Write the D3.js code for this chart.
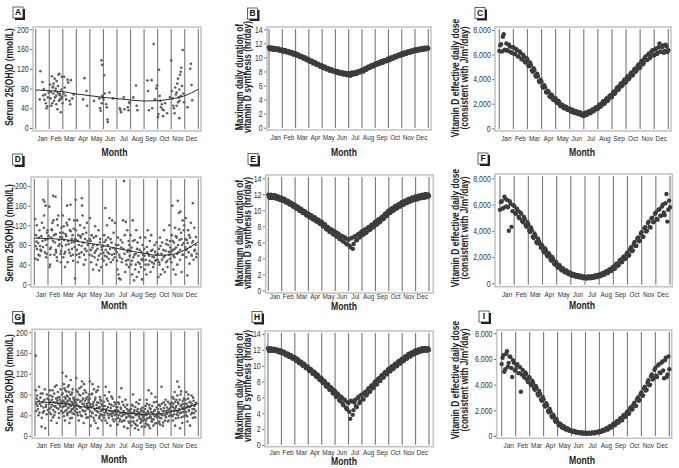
<!DOCTYPE html>
<html><head><meta charset="utf-8">
<script src="https://cdn.jsdelivr.net/npm/d3@7"></script>
<style>
body{margin:0;background:#fff}
svg{display:block}
text{font-family:"Liberation Sans",Arial,sans-serif}
</style></head><body>
<svg id="c" width="679" height="468"></svg>
<script>
const months = ["Jan","Feb","Mar","Apr","May","Jun","Jul","Aug","Sep","Oct","Nov","Dec"];
const serumTicks = [0,40,80,120,160,200];
const hourTicks = [0,2,4,6,8,10,12,14];
const doseTicks = [0,2000,4000,6000,8000];
const loessMonths = [0,1,2,3,4,5,6,7,8,9,10,11,12];
// sampling grids (month position) of the dense daily series
const sampleMonths = d3.range(0, 12.0001, 0.125);
const sampleMonths2 = d3.range(0.0625, 12, 0.125);

// Panel A: serum 25(OH)D [month position, nmol/L]
const serumA = [[0.35,115],[0.5,93],[0.3,58],[0.6,79],[0.7,68],[0.75,50],[0.85,44],[0.9,62],[0.65,57],[0.8,40],[0.95,72],[0.55,66],
[1.05,88],[1.1,60],[1.15,45],[1.2,105],[1.25,82],[1.3,70],[1.35,55],[1.4,100],[1.45,75],[1.5,65],[1.55,95],[1.6,38],[1.65,85],[1.7,68],[1.75,110],[1.8,58],[1.85,32],[1.9,78],[1.95,63],[1.12,73],[1.22,50],[1.32,90],[1.42,62],[1.52,48],[1.62,72],[1.72,55],[1.82,66],[1.92,104],[1.98,50],[1.28,84],[1.48,80],[1.68,108],[1.78,70],[1.88,60],
[2.05,70],[2.1,104],[2.15,82],[2.2,66],[2.25,58],[2.35,98],[2.4,92],[2.5,55],[2.55,48],[2.6,97],[2.7,60],[2.8,68],
[3.5,58],[3.6,101],[3.75,75],[3.8,45],
[4.3,55],[4.7,60],[4.75,40],[4.8,35],[4.85,137],[4.9,128],[4.92,65],[4.95,62],[5.0,58],[4.88,50],
[5.05,107],[5.1,70],[5.2,48],[5.25,42],[5.3,17],[5.32,12],[5.45,72],[5.7,60],
[6.2,40],[6.25,36],[6.3,32],[6.5,62],[6.55,38],[6.8,42],[6.85,36],[6.9,52],[6.95,50],
[7.2,62],[7.4,86],[7.45,45],[7.5,36],
[8.25,96],[8.3,75],[8.35,36],[8.55,97],[8.6,40],[8.7,170],[8.8,58],[8.9,80],[8.95,86],
[9.02,22],[9.05,28],[9.1,118],[9.15,65],[9.2,55],[9.25,42],[9.3,48],[9.35,38],[9.4,24],[9.45,36],[9.55,50],[9.7,30],
[9.9,62],[10.0,137],[10.05,75],[10.1,60],[10.15,45],[10.2,40],[10.25,30],[10.3,82],[10.35,68],[10.4,72],[10.45,90],[10.5,100],[10.55,62],[10.6,20],[10.62,55],[10.65,108],[10.7,114],[10.72,65],[10.75,122],[10.8,85],[10.85,158],[10.9,70],[10.95,52],[10.5,52],[10.4,45],[10.6,78],
[11.2,42],[11.4,120],[11.45,130],[11.5,87],[11.55,56]];
const loessA = [77,75.7,73.6,69,65.5,62,59.5,56.8,54.7,55.4,58.8,65.5,78.4];

// Panel D
const serumD = [[0.06,133],[0.08,52],[0.12,100],[0.15,87],[0.2,72],[0.25,50],[0.3,60],[0.33,95],[0.38,110],[0.45,70],[0.5,68],[0.56,125],[0.6,88],[0.66,172],[0.7,115],[0.75,168],[0.78,65],[0.83,160],[0.86,55],[0.9,80],[0.93,105],[0.95,92],[0.42,78],
[1.1,158],[1.12,35],[1.15,40],[1.18,60],[1.22,75],[1.25,95],[1.3,110],[1.33,125],[1.38,180],[1.4,130],[1.45,100],[1.5,85],[1.55,178],[1.58,70],[1.6,65],[1.65,55],[1.68,48],[1.72,120],[1.75,140],[1.8,90],[1.85,82],[1.88,105],[1.92,62],[1.95,45],[1.98,115],
[2.04,95],[2.08,140],[2.12,55],[2.15,118],[2.2,62],[2.24,35],[2.28,102],[2.32,80],[2.36,125],[2.4,160],[2.44,45],[2.48,88],[2.52,70],[2.56,132],[2.6,110],[2.65,162],[2.68,58],[2.72,85],[2.76,72],[2.8,100],[2.84,48],[2.88,113],[2.92,130],[2.95,76],[2.97,92],[2.98,12],
[3.03,172],[3.07,90],[3.1,60],[3.14,130],[3.18,45],[3.22,100],[3.26,80],[3.3,55],[3.35,120],[3.4,95],[3.45,65],[3.48,175],[3.5,160],[3.53,140],[3.58,85],[3.62,40],[3.66,115],[3.7,72],[3.75,50],[3.8,105],[3.85,125],[3.9,88],
[4.04,60],[4.08,135],[4.12,88],[4.16,45],[4.2,100],[4.25,75],[4.3,30],[4.35,95],[4.4,55],[4.45,118],[4.5,68],[4.55,40],[4.6,80],[4.65,50],[4.7,110],[4.75,28],[4.8,85],[4.85,62],[4.9,35],[4.94,70],[4.97,52],
[5.04,78],[5.08,48],[5.12,100],[5.16,58],[5.2,155],[5.24,90],[5.28,40],[5.32,120],[5.36,65],[5.4,95],[5.45,52],[5.5,135],[5.55,72],[5.6,45],[5.65,85],[5.7,130],[5.75,50],[5.8,105],[5.85,62],[5.9,125],[5.94,70],[5.97,80],
[6.04,65],[6.08,30],[6.12,95],[6.16,20],[6.2,12],[6.25,55],[6.3,10],[6.35,75],[6.4,45],[6.45,85],[6.5,130],[6.56,210],[6.6,62],[6.65,25],[6.7,127],[6.75,40],[6.8,110],[6.85,50],[6.88,70],[6.92,35],[6.95,80],[6.98,58],
[7.04,100],[7.08,40],[7.12,75],[7.16,20],[7.2,130],[7.25,55],[7.3,8],[7.34,90],[7.38,30],[7.42,62],[7.46,110],[7.5,15],[7.55,85],[7.6,45],[7.65,25],[7.7,70],[7.75,95],[7.8,35],[7.85,50],[7.88,10],[7.92,80],[7.95,60],[7.98,48],
[8.04,72],[8.08,30],[8.12,95],[8.16,50],[8.2,20],[8.25,65],[8.3,110],[8.35,40],[8.4,58],[8.45,88],[8.5,25],[8.55,100],[8.6,45],[8.65,70],[8.7,35],[8.75,55],[8.8,80],[8.85,48],[8.9,60],[8.95,85],
[9.04,50],[9.08,15],[9.12,72],[9.16,40],[9.2,95],[9.25,20],[9.3,62],[9.35,85],[9.4,30],[9.45,55],[9.5,110],[9.55,25],[9.6,68],[9.65,45],[9.7,90],[9.75,35],[9.8,80],[9.85,60],[9.88,120],[9.92,52],[9.95,75],[9.98,65],
[10.03,45],[10.06,100],[10.1,160],[10.14,70],[10.18,30],[10.22,85],[10.26,55],[10.3,115],[10.34,20],[10.38,75],[10.42,95],[10.46,40],[10.5,170],[10.54,65],[10.58,145],[10.62,90],[10.66,50],[10.7,148],[10.74,105],[10.78,25],[10.82,80],[10.86,130],[10.9,60],[10.94,110],[10.97,120],
[11.04,75],[11.08,135],[11.12,55],[11.16,90],[11.2,18],[11.25,110],[11.3,65],[11.35,42],[11.4,95],[11.45,125],[11.5,60],[11.55,85],[11.6,165],[11.65,50],[11.7,115],[11.75,70],[11.8,80],[11.85,55]];
const serumD2 = [[0.1,78],[0.18,120],[0.28,84],[0.4,58],[0.52,98],[0.64,76],[0.72,140],[0.82,90],[0.9,62],[0.97,110],
[1.05,98],[1.16,72],[1.27,112],[1.36,88],[1.47,60],[1.57,102],[1.66,132],[1.78,78],[1.9,96],[1.96,68],
[2.02,78],[2.1,105],[2.18,90],[2.26,66],[2.34,98],[2.42,120],[2.5,82],[2.58,64],[2.66,108],[2.74,92],[2.82,60],[2.9,86],
[3.05,110],[3.12,70],[3.2,88],[3.28,62],[3.38,98],[3.46,78],[3.55,102],[3.64,60],[3.72,92],[3.82,68],[3.92,80],
[4.06,92],[4.14,70],[4.22,58],[4.32,80],[4.42,64],[4.52,98],[4.62,72],[4.72,58],[4.82,92],[4.92,76],
[5.06,64],[5.14,86],[5.22,70],[5.3,56],[5.38,80],[5.48,62],[5.58,92],[5.68,60],[5.78,74],[5.88,55],
[6.06,48],[6.14,80],[6.22,60],[6.32,90],[6.42,52],[6.52,72],[6.62,100],[6.72,48],[6.82,66],[6.9,88],
[7.06,68],[7.14,48],[7.22,88],[7.32,60],[7.42,40],[7.52,72],[7.62,58],[7.72,42],[7.82,66],[7.9,52],
[8.06,58],[8.14,40],[8.24,76],[8.34,62],[8.44,48],[8.54,68],[8.64,56],[8.74,42],[8.84,66],[8.92,50],
[9.06,62],[9.14,45],[9.24,78],[9.34,50],[9.44,70],[9.54,58],[9.64,82],[9.74,48],[9.84,66],[9.92,88],
[10.04,68],[10.12,88],[10.2,58],[10.28,72],[10.36,98],[10.44,62],[10.52,80],[10.6,112],[10.68,70],[10.76,92],[10.84,60],[10.92,84],
[11.06,92],[11.14,70],[11.22,84],[11.32,100],[11.42,76],[11.52,58],[11.62,88],[11.72,68],[11.82,96],[11.88,62]];
const loessD = [94,93,91.5,88,83.4,79.3,73.2,67.8,63,59,60.3,69.8,86.8];

// Panel G
const serumG = [[0.05,155],[0.07,88],[0.09,48],[0.12,72],[0.18,58],[0.25,40],[0.3,95],[0.35,62],[0.42,82],[0.48,18],[0.52,65],[0.58,45],[0.62,55],[0.7,70],[0.76,15],[0.82,60],[0.88,80],[0.94,50],
[1.04,62],[1.08,45],[1.12,78],[1.16,55],[1.2,30],[1.25,70],[1.3,88],[1.34,50],[1.38,65],[1.42,40],[1.46,95],[1.5,58],[1.55,72],[1.6,25],[1.64,68],[1.68,85],[1.72,52],[1.76,35],[1.8,75],[1.84,60],[1.88,90],[1.92,48],[1.95,64],[1.98,80],[1.5,56],
[2.02,122],[2.05,66],[2.08,45],[2.11,100],[2.14,58],[2.17,75],[2.2,30],[2.23,88],[2.26,62],[2.29,115],[2.32,50],[2.35,78],[2.38,40],[2.41,95],[2.44,68],[2.47,55],[2.5,85],[2.53,25],[2.56,72],[2.59,60],[2.62,108],[2.65,48],[2.68,80],[2.71,35],[2.74,65],[2.77,90],[2.8,52],[2.84,74],[2.88,42],[2.91,57],[2.94,63],[2.97,70],
[3.03,112],[3.06,60],[3.1,45],[3.14,85],[3.18,70],[3.22,30],[3.26,92],[3.3,55],[3.34,78],[3.38,40],[3.42,68],[3.46,105],[3.5,50],[3.54,82],[3.58,25],[3.62,62],[3.66,88],[3.7,48],[3.74,72],[3.78,35],[3.82,58],[3.86,75],[3.9,52],[3.94,65],[3.97,80],[3.6,100],
[4.03,105],[4.06,58],[4.1,20],[4.14,80],[4.18,45],[4.22,100],[4.26,62],[4.3,35],[4.34,90],[4.38,52],[4.42,70],[4.46,25],[4.5,85],[4.54,48],[4.58,65],[4.62,15],[4.66,95],[4.7,55],[4.74,38],[4.78,75],[4.82,42],[4.86,68],[4.9,30],[4.94,60],[4.97,50],
[5.04,58],[5.08,35],[5.12,78],[5.16,45],[5.2,95],[5.25,52],[5.3,25],[5.35,68],[5.4,40],[5.45,85],[5.5,48],[5.55,20],[5.6,60],[5.65,38],[5.7,72],[5.75,44],[5.8,28],[5.85,65],[5.9,50],[5.94,32],[5.97,56],[5.6,42],
[6.04,50],[6.08,22],[6.12,65],[6.16,40],[6.2,75],[6.25,32],[6.3,55],[6.35,92],[6.4,28],[6.45,45],[6.5,60],[6.55,18],[6.6,42],[6.65,70],[6.7,35],[6.75,52],[6.8,15],[6.85,48],[6.9,38],[6.94,25],[6.97,44],[6.5,30],
[7.04,45],[7.08,20],[7.12,60],[7.16,35],[7.2,80],[7.25,28],[7.3,50],[7.35,15],[7.4,42],[7.45,65],[7.5,30],[7.55,52],[7.6,12],[7.65,38],[7.7,70],[7.75,25],[7.8,48],[7.85,18],[7.9,55],[7.94,36],[7.97,40],[7.4,22],[7.8,32],[7.6,46],
[8.04,40],[8.08,18],[8.12,58],[8.16,30],[8.2,70],[8.25,22],[8.3,48],[8.35,88],[8.4,35],[8.45,15],[8.5,52],[8.55,82],[8.6,28],[8.65,45],[8.7,20],[8.75,65],[8.8,38],[8.85,75],[8.9,25],[8.94,55],[8.97,42],[8.4,60],[8.6,32],[8.8,50],[8.2,44],[8.5,36],
[9.04,45],[9.08,25],[9.12,60],[9.16,35],[9.2,22],[9.25,52],[9.3,95],[9.35,40],[9.4,20],[9.45,65],[9.5,48],[9.55,30],[9.6,70],[9.65,42],[9.7,55],[9.75,28],[9.8,50],[9.85,38],[9.9,62],[9.94,46],[9.97,56],
[10.03,58],[10.06,40],[10.1,75],[10.14,30],[10.18,62],[10.22,48],[10.26,85],[10.3,20],[10.34,55],[10.38,70],[10.42,42],[10.46,105],[10.5,65],[10.54,35],[10.58,95],[10.62,50],[10.66,15],[10.7,80],[10.74,45],[10.78,60],[10.82,25],[10.86,68],[10.9,52],[10.94,38],[10.97,56],[10.5,47],
[11.04,62],[11.08,40],[11.12,85],[11.16,55],[11.2,28],[11.25,72],[11.3,50],[11.35,65],[11.4,20],[11.45,58],[11.5,78],[11.55,45],[11.6,35],[11.65,68],[11.7,52],[11.75,60],[11.8,48]];
const serumG2 = [[0.1,62],[0.16,78],[0.22,52],[0.28,68],[0.33,45],[0.4,74],[0.45,58],[0.5,35],[0.56,82],[0.6,66],[0.66,48],[0.72,90],[0.8,56],[0.86,42],[0.92,72],
[1.02,70],[1.07,52],[1.1,88],[1.14,66],[1.19,42],[1.23,60],[1.28,76],[1.32,36],[1.37,58],[1.41,82],[1.47,46],[1.53,64],[1.58,98],[1.62,54],[1.67,74],[1.71,62],[1.77,44],[1.82,70],[1.87,56],[1.93,66],
[2.03,82],[2.07,56],[2.1,68],[2.13,38],[2.16,92],[2.19,64],[2.22,48],[2.25,72],[2.28,58],[2.31,86],[2.34,66],[2.37,44],[2.4,76],[2.43,54],[2.46,62],[2.49,98],[2.52,46],[2.55,70],[2.58,34],[2.61,80],[2.64,58],[2.67,66],[2.7,52],[2.73,84],[2.76,44],[2.79,62],[2.83,72],[2.87,55],[2.9,68],[2.93,48],
[3.02,64],[3.05,88],[3.08,52],[3.12,70],[3.16,40],[3.2,58],[3.24,80],[3.28,46],[3.32,66],[3.36,55],[3.4,95],[3.44,38],[3.48,62],[3.52,72],[3.56,48],[3.64,58],[3.68,68],[3.72,42],[3.76,84],[3.8,54],[3.84,62],[3.88,36],[3.92,70],[3.96,56],
[4.02,72],[4.05,48],[4.08,62],[4.12,38],[4.16,56],[4.2,82],[4.24,44],[4.28,58],[4.32,66],[4.36,30],[4.4,50],[4.44,74],[4.48,40],[4.52,60],[4.56,54],[4.6,88],[4.64,46],[4.68,64],[4.72,34],[4.76,56],[4.8,70],[4.84,48],[4.88,62],[4.92,40],[4.96,58],
[5.02,52],[5.06,66],[5.1,40],[5.14,58],[5.18,30],[5.22,48],[5.27,72],[5.32,44],[5.37,56],[5.42,35],[5.47,62],[5.52,42],[5.57,54],[5.62,76],[5.67,46],[5.72,32],[5.77,58],[5.82,48],[5.87,40],[5.92,62],[5.96,45],
[6.02,42],[6.06,56],[6.1,35],[6.14,48],[6.18,62],[6.22,28],[6.27,44],[6.32,52],[6.37,38],[6.42,66],[6.47,40],[6.52,48],[6.57,30],[6.62,56],[6.67,44],[6.72,36],[6.77,60],[6.82,42],[6.87,28],[6.92,50],[6.96,38],
[7.02,38],[7.06,52],[7.1,28],[7.14,44],[7.18,58],[7.22,36],[7.27,46],[7.32,24],[7.37,56],[7.42,40],[7.47,48],[7.52,20],[7.57,42],[7.62,62],[7.67,34],[7.72,44],[7.77,52],[7.82,28],[7.87,40],[7.92,48],[7.96,30],
[8.02,46],[8.06,32],[8.1,52],[8.14,24],[8.18,40],[8.22,62],[8.27,34],[8.32,44],[8.37,20],[8.42,54],[8.47,38],[8.52,46],[8.57,28],[8.62,58],[8.67,42],[8.72,32],[8.77,48],[8.82,24],[8.87,40],[8.92,66],[8.96,36],
[9.02,52],[9.06,38],[9.1,46],[9.14,28],[9.18,58],[9.22,42],[9.27,34],[9.32,62],[9.37,48],[9.42,26],[9.47,54],[9.52,40],[9.57,60],[9.62,36],[9.67,48],[9.72,44],[9.77,66],[9.82,30],[9.87,52],[9.92,40],[9.96,62],
[10.02,48],[10.06,64],[10.1,38],[10.14,56],[10.18,72],[10.22,42],[10.26,52],[10.3,66],[10.34,34],[10.38,58],[10.42,48],[10.46,78],[10.5,40],[10.54,62],[10.58,52],[10.62,70],[10.66,44],[10.7,58],[10.74,86],[10.78,36],[10.82,54],[10.86,62],[10.9,46],[10.94,72],[10.98,50],
[11.02,54],[11.06,70],[11.1,46],[11.14,62],[11.18,38],[11.22,58],[11.27,80],[11.32,48],[11.37,56],[11.42,66],[11.47,42],[11.52,62],[11.57,52],[11.62,74],[11.67,44],[11.72,58],[11.77,36],[11.82,64]];
const loessG = [66,65,63,58,54.7,51.4,47,43.7,41.8,42.4,47,53.4,63];

// Panels B, E, H: maximum daily duration of vitamin D synthesis (hr/day), two readings per grid step
const durB = [11.45,11.15,11.35,11.1, 11.3,11.05,11.2,10.95, 11.1,10.85,10.98,10.72, 10.88,10.6,10.7,10.42,
10.55,10.3,10.35,10.05, 10.15,9.85,9.95,9.6, 9.7,9.4,9.5,9.15, 9.28,8.95,9.02,8.7,
8.82,8.5,8.6,8.3, 8.42,8.12,8.25,7.98, 8.1,7.85,7.98,7.7, 7.88,7.6,7.78,7.45,
7.75,7.4,7.85,7.6, 7.9,7.7,8.05,7.9, 8.22,8.0,8.45,8.3, 8.7,8.55,8.9,8.75,
9.12,8.95,9.3,9.15, 9.48,9.3,9.62,9.5, 9.85,9.65,10.0,9.88, 10.22,10.05,10.38,10.25,
10.58,10.38,10.72,10.55, 10.88,10.68,11.0,10.82, 11.12,10.9,11.22,11.05, 11.3,11.1,11.35,11.18, 11.28];
const durB2 = [11.15,11.4,11.1,11.33, 11.05,11.28,10.95,11.15, 10.82,11.05,10.72,10.9, 10.58,10.78,10.42,10.62,
10.25,10.45,10.05,10.22, 9.85,10.02,9.62,9.8, 9.4,9.58,9.18,9.35, 8.95,9.12,8.72,8.9,
8.5,8.7,8.3,8.48, 8.12,8.32,7.98,8.15, 7.82,8.05,7.7,7.9, 7.58,7.82,7.52,7.75,
7.48,7.8,7.55,7.85, 7.65,8.0,7.85,8.18, 8.02,8.4,8.25,8.62, 8.48,8.85,8.7,9.05,
8.92,9.25,9.1,9.42, 9.25,9.6,9.45,9.78, 9.6,9.98,9.82,10.18, 10.0,10.35,10.2,10.52,
10.35,10.7,10.5,10.82, 10.65,10.95,10.8,11.08, 10.9,11.2,11.0,11.3, 11.08,11.38,11.15,11.4];
const durE = [11.95,11.55,11.9,11.6, 11.85,11.45,11.7,11.3, 11.55,11.15,11.35,10.95, 11.15,10.7,10.9,10.45,
10.68,10.2,10.4,9.9, 10.12,9.65,9.85,9.35, 9.58,9.1,9.32,8.85, 9.08,8.6,8.8,8.3,
8.55,7.98,8.2,7.6, 7.82,7.28,7.6,7.0, 7.35,6.72,7.05,6.4, 6.8,6.1,6.55,5.75,
6.35,5.4,6.6,5.8, 6.8,6.3,7.1,6.75, 7.4,7.0,7.65,7.35, 7.92,7.6,8.25,8.0,
8.58,8.25,8.9,8.6, 9.22,8.95,9.6,9.35, 10.0,9.7,10.28,10.0, 10.55,10.25,10.8,10.5,
11.05,10.72,11.25,10.95, 11.45,11.1,11.6,11.3, 11.75,11.35,11.85,11.5, 11.95,11.55,12.05,11.65, 11.8];
const durE2 = [11.62,11.95,11.55,11.88, 11.5,11.78,11.35,11.6, 11.2,11.45,11.0,11.22, 10.78,11.0,10.5,10.75,
10.25,10.48,9.98,10.2, 9.7,9.92,9.42,9.65, 9.15,9.4,8.9,9.15, 8.65,8.88,8.38,8.62,
8.05,8.3,7.68,7.92, 7.32,7.62,7.05,7.38, 6.78,7.15,6.45,6.85, 6.15,6.65,5.85,6.4,
5.6,6.5,5.2,6.7, 6.25,7.0,6.6,7.3, 6.95,7.6,7.2,7.85, 7.55,8.15,7.85,8.48,
8.2,8.8,8.5,9.12, 8.88,9.5,9.25,9.9, 9.65,10.2,9.92,10.48, 10.22,10.72,10.48,10.98,
10.7,11.18,10.9,11.38, 11.12,11.52,11.25,11.68, 11.42,11.8,11.5,11.9, 11.6,11.98,11.65,12.0];
const durH = [12.2,11.85,12.15,11.9, 12.1,11.82,11.98,11.7, 11.88,11.55,11.65,11.3, 11.48,11.1,11.25,10.9,
11.05,10.6,10.72,10.3, 10.45,10.0,10.1,9.68, 9.82,9.33,9.45,8.98, 9.12,8.6,8.75,8.2,
8.4,7.8,7.95,7.35, 7.58,6.95,7.15,6.5, 6.78,6.05,6.35,5.55, 6.0,5.0,5.6,4.5,
5.3,3.3,5.5,4.4, 5.7,4.8,6.1,5.5, 6.35,5.75,6.7,6.35, 7.15,6.75,7.55,7.25,
8.0,7.65,8.42,8.1, 8.85,8.5,9.22,8.95, 9.62,9.3,9.95,9.65, 10.25,9.95,10.6,10.3,
10.9,10.6,11.2,10.9, 11.5,11.15,11.72,11.45, 11.95,11.6,12.08,11.8, 12.2,11.85,12.25,11.9, 12.0];
const durH2 = [11.9,12.2,11.88,12.15, 11.85,12.05,11.7,11.92, 11.55,11.78,11.35,11.55, 11.12,11.35,10.9,11.1,
10.65,10.88,10.35,10.55, 10.02,10.25,9.7,9.92, 9.35,9.6,9.0,9.25, 8.65,8.9,8.28,8.5,
7.85,8.12,7.42,7.7, 7.0,7.3,6.55,6.9, 6.1,6.5,5.65,6.1, 5.2,5.75,4.7,5.4,
4.2,5.6,3.8,5.35, 4.9,5.9,5.3,6.3, 5.85,6.6,6.25,7.0, 6.7,7.45,7.15,7.9,
7.62,8.3,8.05,8.72, 8.5,9.12,8.88,9.5, 9.28,9.85,9.6,10.18, 9.92,10.5,10.25,10.82,
10.58,11.12,10.88,11.42, 11.18,11.65,11.4,11.85, 11.6,12.0,11.75,12.15, 11.85,12.2,11.9,12.22];

// Panels C, F, I: vitamin D effective daily dose, two readings per grid step
const doseC = [6300,6850,7450,6400, 6900,6300,6650,6150, 6600,6050,6350,5850, 6150,5600,5850,5350,
5600,5050,5150,4600, 4750,4200,4250,3750, 3800,3300,3350,2900, 2950,2550,2680,2300,
2420,2050,2150,1800, 1880,1620,1740,1480, 1600,1350,1480,1250, 1380,1150,1280,1050,
1000,1300,1150,1400, 1250,1550,1450,1720, 1600,1950,1850,2200, 2050,2450,2330,2700,
2550,3000,2900,3350, 3200,3650,3500,3950, 3750,4250,4100,4550, 4350,4850,4700,5200,
4950,5500,5300,5850, 5550,6100,5850,6350, 5950,6500,6150,6900, 6200,6750,6300,6650, 6350];
const doseC2 = [6750,6250,7650,6350, 6350,6800,6200,6600, 6050,6450,5850,6250, 5650,6000,5400,5700,
5100,5350,4700,4900, 4300,4450,3850,3950, 3400,3500,2950,3050, 2600,2750,2350,2480,
2100,2250,1850,1950, 1650,1780,1520,1620, 1380,1520,1270,1400, 1180,1320,1080,1200,
1200,1080,1350,1220, 1480,1380,1650,1560, 1850,1750,2080,1980, 2350,2220,2620,2520,
2880,2800,3200,3120, 3500,3420,3820,3700, 4150,3980,4450,4300, 4750,4600,5050,4900,
5400,5200,5700,5550, 6000,5700,6250,5950, 6400,6050,6600,6250, 6600,6150,6800,6200];
const doseF = [5600,6250,5750,6450, 6350,4000,6050,5500, 5900,5300,5550,4950, 5300,4650,4900,4300,
4500,3900,4050,3450, 3600,3050,3200,2700, 2820,2350,2500,2050, 2180,1720,1850,1420,
1520,1180,1280,980, 1060,820,900,680, 780,580,680,500, 620,450,560,380,
500,360,520,390, 540,420,610,470, 670,560,790,680, 920,790,1080,960,
1270,1130,1520,1380, 1800,1620,2050,1880, 2350,2150,2750,2500, 3150,2850,3500,3250,
3900,3550,4280,4000, 4700,4250,5000,4700, 5400,4850,5650,5150, 6000,5200,6800,5600, 5800];
const doseF2 = [6200,5700,6600,5850, 5800,6250,4300,5950, 5350,5700,5050,5400, 4750,5050,4400,4650,
4000,4250,3550,3800, 3150,3400,3000,2950, 2450,2650,2120,2300, 1820,2000,1500,1650,
1230,1400,1040,1150, 850,980,720,820, 600,720,540,640, 470,580,410,520,
380,500,400,530, 420,580,480,640, 560,740,650,860, 780,1020,930,1200,
1100,1450,1330,1720, 1600,1980,1850,2250, 2100,2600,2450,3000, 2850,3400,3200,3800,
3550,4200,3950,4600, 4300,4950,4650,5300, 4900,5600,5150,5850, 5400,6100,4700,6300];
const doseI = [5600,6300,5200,6600, 5700,6150,4600,5700, 5200,5600,4900,3450, 5150,4550,4850,4200,
4550,3950,4150,3600, 3750,3150,3300,2750, 2850,2300,2400,1850, 1900,1450,1500,1100,
1100,820,880,640, 680,500,550,400, 440,320,370,260, 300,220,270,190,
250,180,260,200, 270,220,320,280, 380,330,480,430, 600,520,760,700,
950,860,1150,1060, 1380,1230,1630,1520, 1920,1750,2250,2100, 2600,2350,3000,2800,
3400,3150,3850,3600, 4350,4000,4800,4500, 5300,4600,5600,4900, 5800,4500,6100,4800, 5200];
const doseI2 = [6100,5000,6400,5400, 6200,5300,5900,5100, 5500,4900,5350,4800, 4700,4950,4400,4600,
4050,4300,3700,3900, 3300,3500,2850,3050, 2400,2550,1950,2100, 1550,1650,1180,1300,
870,950,680,760, 520,600,420,480, 330,400,270,320, 230,290,200,250,
180,240,190,260, 210,300,260,350, 310,440,400,550, 500,700,650,880,
830,1080,1030,1280, 1220,1550,1480,1800, 1720,2150,2050,2480, 2350,2850,2750,3250,
3150,3700,3550,4150, 3950,4650,4400,5150, 4700,5500,4950,5700, 5100,5900,4600,6200];

const kinds = {
  serum:{max:200, ticks:serumTicks, fmt:d3.format("d"), title:["Serum 25(OH)D (nmol/L)"]},
  hours:{max:14, ticks:hourTicks, fmt:d3.format("d"), title:["Maximum daily duration of","vitamin D synthesis (hr/day)"]},
  dose:{max:8000, ticks:doseTicks, fmt:d3.format(","), title:["Vitamin D effective daily dose","(consistent with J/m\u00b2/day)"]}
};
const band = (v1, v2) => sampleMonths.map((m,i)=>[m,v1[i]]).concat(sampleMonths2.map((m,i)=>[m,v2[i]]));

const panels = [
 {id:"A",kind:"serum",pts:serumA,loess:loessA,fx:[33,201],fy:[27,131],lx:[35.7,198.3],ly:[128,29.3],xlabY:138.5,monthX:114.5,monthY:153,tx:[10],ty:77,box:[13,7]},
 {id:"B",kind:"hours",pts:band(durB,durB2),fx:[267,431],fy:[27,130],lx:[269,428.3],ly:[127.7,29.3],xlabY:137.5,monthX:344,monthY:153,tx:[240,248.5],ty:77,box:[247.5,8]},
 {id:"C",kind:"dose",pts:band(doseC,doseC2),fx:[495,671],fy:[27,131],lx:[499.3,668.3],ly:[128.3,30],xlabY:138.5,monthX:582,monthY:153,tx:[456,465],ty:78,box:[475,7.5]},
 {id:"D",kind:"serum",pts:serumD.concat(serumD2),loess:loessD,fx:[31,201],fy:[177,287],lx:[34.3,198.3],ly:[284.3,186],xlabY:294.5,monthX:114,monthY:306.5,tx:[10],ty:233,box:[12.7,154]},
 {id:"E",kind:"hours",pts:band(durE,durE2),fx:[265.7,433.3],fy:[175,293],lx:[268.3,429],ly:[290.5,178.3],xlabY:297,monthX:344,monthY:307.5,tx:[240,248.5],ty:233,box:[248,153.5]},
 {id:"F",kind:"dose",pts:band(doseF,doseF2),fx:[495,672.3],fy:[174,286.7],lx:[500,670],ly:[283.3,178.3],xlabY:294.5,monthX:582,monthY:306.5,tx:[456,465],ty:228,box:[478,153]},
 {id:"G",kind:"serum",pts:serumG.concat(serumG2),loess:loessG,fx:[32,201],fy:[329.3,438.3],lx:[35,198.3],ly:[436,332.3],xlabY:446,monthX:114,monthY:460.5,tx:[10],ty:383,box:[12.7,311.5]},
 {id:"H",kind:"hours",pts:band(durH,durH2),fx:[265,433.3],fy:[331,446.7],lx:[268,429],ly:[445,334],xlabY:452.5,monthX:344,monthY:462.5,tx:[240,248.5],ty:386,box:[252,311.5]},
 {id:"I",kind:"dose",pts:band(doseI,doseI2),fx:[496.7,671.7],fy:[330,438.3],lx:[501.7,669.3],ly:[436,333.3],xlabY:446,monthX:582,monthY:461,tx:[456,465],ty:380,box:[479,311]}
];

const svg = d3.select("#c");
function condense(sel, f) {
  sel.each(function(){
    const w = this.getComputedTextLength();
    this.setAttribute("textLength", (w*f).toFixed(2));
    this.setAttribute("lengthAdjust","spacingAndGlyphs");
  });
}

panels.forEach(p => {
  const k = kinds[p.kind];
  const g = svg.append("g").attr("class","panel-"+p.id);
  const x = d3.scaleLinear().domain([0,12]).range(p.lx);
  const y = d3.scaleLinear().domain([0,k.max]).range(p.ly);
  const xb = d3.scaleBand().domain(months).range(p.lx);

  g.append("rect").attr("x",p.fx[0]).attr("y",p.fy[0])
    .attr("width",p.fx[1]-p.fx[0]).attr("height",p.fy[1]-p.fy[0])
    .attr("fill","#fff").attr("stroke","#c2c2c2").attr("stroke-width",1.5);

  g.selectAll("line.mline").data(loessMonths).join("line").attr("class","mline")
    .attr("x1",d=>x(d)).attr("x2",d=>x(d))
    .attr("y1",p.fy[0]+2).attr("y2",p.fy[1]-2)
    .attr("stroke","#777").attr("stroke-width",1.1);

  const isBand = p.kind !== "serum";
  g.selectAll("circle").data(p.pts).join("circle")
    .attr("cx",d=>x(d[0])).attr("cy",d=>y(d[1]))
    .attr("r", isBand ? 2.2 : 1.3)
    .attr("fill", isBand ? "#3c3c3c" : "#5e5e5e");

  if (p.loess) {
    const line = d3.line().x((d,i)=>x(loessMonths[i])).y(d=>y(d)).curve(d3.curveMonotoneX);
    g.append("path").attr("d",line(p.loess)).attr("fill","none")
      .attr("stroke","#2a2a2a").attr("stroke-width",1);
  }

  const ax = d3.axisLeft(y).tickValues(k.ticks).tickFormat(k.fmt).tickSize(2).tickPadding(1.5);
  const ag = g.append("g").attr("transform",`translate(${p.fx[0]-0.75},0)`).call(ax);
  ag.select(".domain").remove();
  ag.selectAll("line").attr("stroke","#666");
  const tl = ag.selectAll("text").attr("font-size",8.5).attr("fill","#333")
    .style("font-family",'"Liberation Sans",Arial,sans-serif');
  condense(tl, 0.82);

  const ml = g.selectAll("text.mlab").data(months).join("text").attr("class","mlab")
    .attr("x",d=>xb(d)+xb.bandwidth()/2).attr("y",p.xlabY)
    .attr("text-anchor","middle").attr("dominant-baseline","middle")
    .attr("font-size",8).attr("fill","#333").text(d=>d);
  condense(ml, 0.8);

  const mt = g.append("text").attr("x",p.monthX).attr("y",p.monthY)
    .attr("text-anchor","middle").attr("dominant-baseline","middle")
    .attr("font-size",10.5).attr("font-weight","bold").attr("fill","#222").text("Month");
  condense(mt, 0.82);

  k.title.forEach((t,i)=>{
    g.append("text").attr("transform",`translate(${p.tx[i]},${p.ty}) rotate(-90) scale(0.8,1)`)
      .attr("text-anchor","middle").attr("dominant-baseline","middle")
      .attr("font-size",10.5).attr("font-weight","bold").attr("fill","#222").text(t);
  });

  const [bx,by] = p.box;
  g.append("rect").attr("x",bx+2).attr("y",by+2).attr("width",10).attr("height",11).attr("fill","#222");
  g.append("rect").attr("x",bx).attr("y",by).attr("width",10).attr("height",11)
    .attr("fill","#fff").attr("stroke","#222").attr("stroke-width",0.7);
  g.append("text").attr("x",bx+5).attr("y",by+5.8).attr("text-anchor","middle")
    .attr("dominant-baseline","middle").attr("font-size",8.5).attr("font-weight","bold")
    .attr("fill","#111").text(p.id);
});
</script>
</body></html>
